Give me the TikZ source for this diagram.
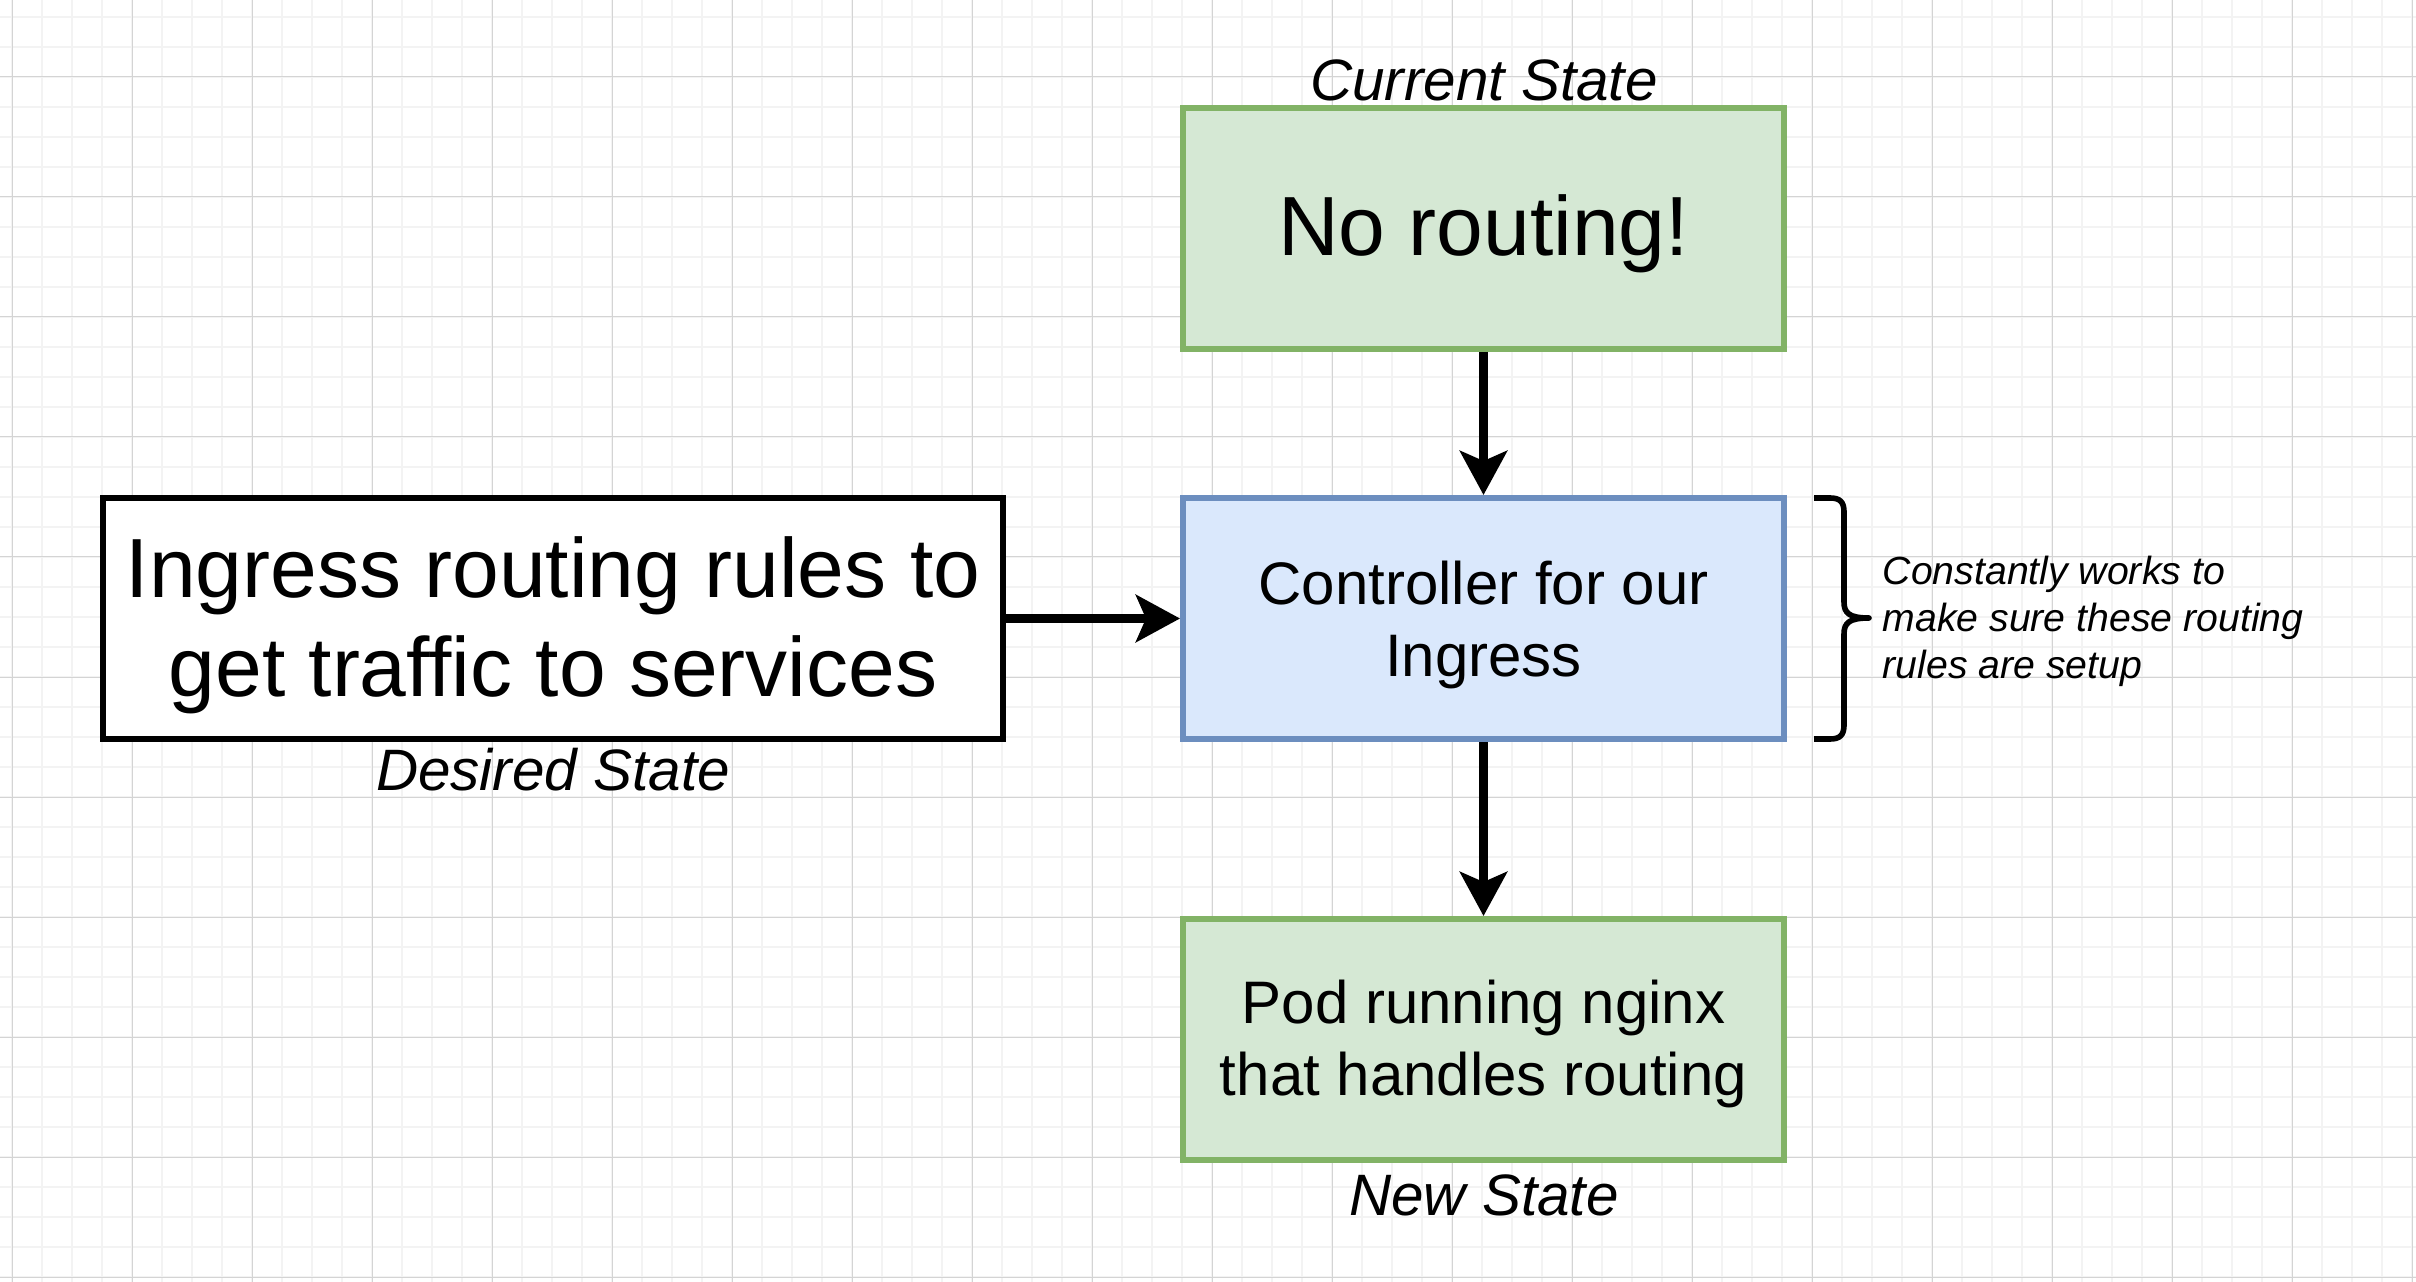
\documentclass[tikz,border=0pt]{standalone}
\usepackage{fontspec}
\setmainfont{Liberation Sans}
\usetikzlibrary{arrows.meta}

\definecolor{gridminor}{HTML}{F3F3F3}
\definecolor{gridmajor}{HTML}{D4D4D4}
\definecolor{greenfill}{HTML}{D5E8D4}
\definecolor{greenline}{HTML}{82B366}
\definecolor{bluefill}{HTML}{DAE8FC}
\definecolor{blueline}{HTML}{6C8EBF}

\begin{document}
\begin{tikzpicture}[x=0.25pt, y=-0.25pt,
  box/.style={rectangle, line width=1.5pt, minimum width=150.25pt,
    minimum height=60.25pt, inner sep=0pt},
  greenbox/.style={box, draw=greenline, fill=greenfill},
  bluebox/.style={box, draw=blueline, fill=bluefill},
  plainbox/.style={box, draw=black, fill=white, minimum width=225pt},
  boxtext/.style={align=center, inner sep=0pt},
  bigfont/.style={boxtext, font=\fontsize{21}{24.7}\selectfont},
  midfont/.style={boxtext, font=\fontsize{15}{18}\selectfont},
  statelabel/.style={font=\fontsize{14.6}{17}\selectfont\itshape,
    inner sep=0pt, anchor=base},
  note/.style={font=\fontsize{9.8}{11.75}\selectfont\itshape,
    align=left, inner sep=0pt, anchor=west},
  flow/.style={line width=2.25pt,
    -{Stealth[length=11pt, width=11.75pt, inset=2.5pt]}},
  bracepath/.style={line width=1.4pt, line join=round},
]

% canvas and grid
\fill[white] (0,0) rectangle (2416,1282);
\useasboundingbox (0,0) rectangle (2416,1282);
\foreach \gx in {12,42,...,2416}
  \draw[gridminor, line width=0.35pt] (\gx,0) -- (\gx,1282);
\foreach \gy in {17,47,...,1282}
  \draw[gridminor, line width=0.35pt] (0,\gy) -- (2416,\gy);
\foreach \gx in {12,132,...,2416}
  \draw[gridmajor, line width=0.25pt] (\gx,0) -- (\gx,1282);
\foreach \gy in {77,197,...,1282}
  \draw[gridmajor, line width=0.25pt] (0,\gy) -- (2416,\gy);

% boxes
\node[greenbox] (current) at (1483.5,228.5) {};
\node[bluebox] (controller) at (1483.5,618.5) {};
\node[greenbox] (pod) at (1483.5,1039.5) {};
\node[plainbox] (rules) at (553,618.5) {};

% box texts
\node[bigfont, yshift=-1.2pt] (currenttext) at (current) {No routing!};
\node[midfont, yshift=-1.5pt] (controllertext) at (controller)
  {Controller for our\\Ingress};
\node[midfont, yshift=-1.2pt] (podtext) at (pod)
  {Pod running nginx\\that handles routing};
\node[bigfont, yshift=-1.6pt] (rulestext) at (rules)
  {Ingress routing rules to\\get traffic to services};

% state captions
\node[statelabel] (currentlbl) at (1484,101) {Current State};
\node[statelabel] (desiredlbl) at (553,790) {Desired State};
\node[statelabel] (newlbl) at (1484,1215) {New State};

% connectors
\draw[flow] (current.south) -- (controller.north);
\draw[flow] (controller.south) -- (pod.north);
\draw[flow] (rules.east) -- (controller.west);

% curly brace beside the controller
\coordinate (bracetip) at (1869,618);
\draw[bracepath] (1814,498) -- (1830,498)
  .. controls (1840,498) and (1844,502) .. (1844,512) -- (1844,602)
  .. controls (1844,613) and (1849,618) .. (bracetip)
  .. controls (1849,618) and (1844,623) .. (1844,634) -- (1844,725)
  .. controls (1844,735) and (1840,739) .. (1830,739) -- (1814,739);
\node[note] (notetext) at (1882,621)
  {Constantly works to\\make sure these routing\\rules are setup};

\end{tikzpicture}
\end{document}
